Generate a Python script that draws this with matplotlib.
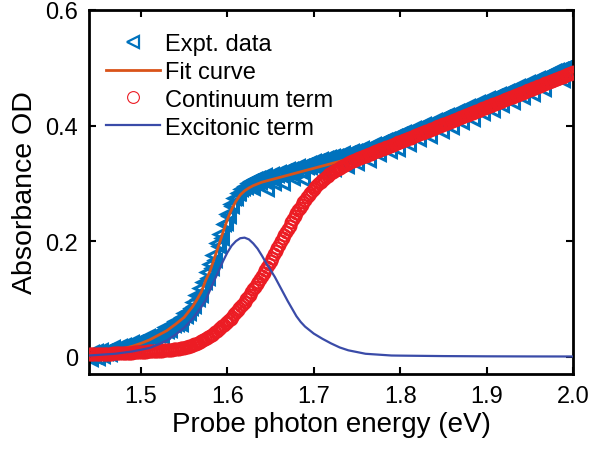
import matplotlib
matplotlib.use("Agg")
import matplotlib.pyplot as plt
from matplotlib.ticker import FixedLocator, FuncFormatter

plt.rcParams['font.family'] = ['Liberation Sans', 'DejaVu Sans']

# ---------------- data ----------------
# Photon energies of the measured spectrum (eV)
energy = [
    1.440, 1.442, 1.444, 1.446, 1.448, 1.450, 1.452, 1.454, 1.456, 1.458,
    1.460, 1.462, 1.464, 1.466, 1.468, 1.470, 1.472, 1.474, 1.476, 1.478,
    1.480, 1.482, 1.484, 1.486, 1.488, 1.490, 1.492, 1.494, 1.496, 1.498,
    1.500, 1.502, 1.504, 1.506, 1.508, 1.510, 1.512, 1.514, 1.516, 1.518,
    1.520, 1.522, 1.524, 1.526, 1.528, 1.530, 1.532, 1.534, 1.536, 1.538,
    1.540, 1.542, 1.544, 1.546, 1.548, 1.550, 1.552, 1.554, 1.556, 1.558,
    1.560, 1.562, 1.564, 1.566, 1.568, 1.570, 1.572, 1.574, 1.576, 1.578,
    1.580, 1.582, 1.584, 1.586, 1.588, 1.590, 1.592, 1.594, 1.596, 1.598,
    1.600, 1.602, 1.604, 1.606, 1.608, 1.610, 1.612, 1.614, 1.616, 1.618,
    1.620, 1.622, 1.624, 1.626, 1.628, 1.630, 1.632, 1.634, 1.636, 1.638,
    1.640, 1.642, 1.644, 1.646, 1.648, 1.650, 1.652, 1.654, 1.656, 1.658,
    1.660, 1.662, 1.664, 1.666, 1.668, 1.670, 1.672, 1.674, 1.676, 1.678,
    1.680, 1.682, 1.684, 1.686, 1.688, 1.690, 1.692, 1.694, 1.696, 1.698,
    1.700, 1.702, 1.704, 1.706, 1.708, 1.710, 1.712, 1.714, 1.716, 1.718,
    1.720, 1.722, 1.724, 1.726, 1.728, 1.730, 1.732, 1.734, 1.736, 1.738,
    1.740, 1.742, 1.744, 1.746, 1.748, 1.750, 1.752, 1.754, 1.756, 1.758,
    1.760, 1.762, 1.764, 1.766, 1.768, 1.770, 1.772, 1.774, 1.776, 1.778,
    1.780, 1.782, 1.784, 1.786, 1.788, 1.790, 1.792, 1.794, 1.796, 1.798,
    1.800, 1.802, 1.804, 1.806, 1.808, 1.810, 1.812, 1.814, 1.816, 1.818,
    1.820, 1.822, 1.824, 1.826, 1.828, 1.830, 1.832, 1.834, 1.836, 1.838,
    1.840, 1.842, 1.844, 1.846, 1.848, 1.850, 1.852, 1.854, 1.856, 1.858,
    1.860, 1.862, 1.864, 1.866, 1.868, 1.870, 1.872, 1.874, 1.876, 1.878,
    1.880, 1.882, 1.884, 1.886, 1.888, 1.890, 1.892, 1.894, 1.896, 1.898,
    1.900, 1.902, 1.904, 1.906, 1.908, 1.910, 1.912, 1.914, 1.916, 1.918,
    1.920, 1.922, 1.924, 1.926, 1.928, 1.930, 1.932, 1.934, 1.936, 1.938,
    1.940, 1.942, 1.944, 1.946, 1.948, 1.950, 1.952, 1.954, 1.956, 1.958,
    1.960, 1.962, 1.964, 1.966, 1.968, 1.970, 1.972, 1.974, 1.976, 1.978,
    1.980, 1.982, 1.984, 1.986, 1.988, 1.990, 1.992, 1.994, 1.996, 1.998,
    2.000]

# Experimental absorbance (blue open left triangles)
expt_od = [
    0.002, -0.004, 0.008, 0.001, 0.010, -0.003, 0.006, 0.011, 0.002, 0.009,
    0.007, 0.012, 0.004, 0.011, 0.017, 0.009, 0.015, 0.010, 0.018, 0.014,
    0.020, 0.014, 0.018, 0.011, 0.021, 0.025, 0.019, 0.025, 0.018, 0.024,
    0.026, 0.022, 0.030, 0.026, 0.035, 0.026, 0.032, 0.037, 0.032, 0.039,
    0.037, 0.043, 0.036, 0.044, 0.051, 0.044, 0.051, 0.047, 0.057, 0.054,
    0.062, 0.057, 0.063, 0.057, 0.069, 0.075, 0.071, 0.079, 0.075, 0.084,
    0.095, 0.088, 0.107, 0.100, 0.119, 0.107, 0.129, 0.130, 0.146, 0.136,
    0.160, 0.154, 0.176, 0.168, 0.197, 0.192, 0.213, 0.206, 0.229, 0.231,
    0.247, 0.244, 0.264, 0.261, 0.274, 0.274, 0.284, 0.284, 0.291, 0.292,
    0.295, 0.293, 0.301, 0.295, 0.304, 0.292, 0.307, 0.304, 0.310, 0.303,
    0.311, 0.304, 0.314, 0.290, 0.313, 0.310, 0.317, 0.301, 0.317, 0.314,
    0.320, 0.315, 0.300, 0.321, 0.319, 0.325, 0.318, 0.325, 0.309, 0.327,
    0.324, 0.330, 0.322, 0.330, 0.307, 0.331, 0.328, 0.336, 0.329, 0.335,
    0.338, 0.332, 0.338, 0.331, 0.342, 0.336, 0.321, 0.343, 0.337, 0.345,
    0.340, 0.347, 0.324, 0.347, 0.343, 0.349, 0.342, 0.352, 0.347, 0.330,
    0.353, 0.347, 0.356, 0.351, 0.356, 0.336, 0.358, 0.353, 0.361, 0.355,
    0.360, 0.355, 0.340, 0.365, 0.361, 0.368, 0.362, 0.368, 0.351, 0.372,
    0.368, 0.375, 0.368, 0.376, 0.356, 0.377, 0.374, 0.382, 0.379, 0.360,
    0.385, 0.380, 0.388, 0.384, 0.389, 0.368, 0.390, 0.386, 0.396, 0.392,
    0.396, 0.377, 0.399, 0.395, 0.403, 0.399, 0.403, 0.382, 0.405, 0.401,
    0.410, 0.405, 0.410, 0.405, 0.390, 0.415, 0.410, 0.418, 0.414, 0.419,
    0.398, 0.420, 0.416, 0.426, 0.421, 0.427, 0.407, 0.428, 0.425, 0.433,
    0.428, 0.434, 0.412, 0.436, 0.432, 0.440, 0.436, 0.440, 0.421, 0.442,
    0.438, 0.447, 0.442, 0.448, 0.427, 0.451, 0.446, 0.454, 0.451, 0.435,
    0.456, 0.452, 0.460, 0.456, 0.462, 0.441, 0.462, 0.458, 0.468, 0.464,
    0.469, 0.450, 0.470, 0.467, 0.475, 0.470, 0.475, 0.454, 0.479, 0.474,
    0.482, 0.478, 0.482, 0.464, 0.486, 0.481, 0.489, 0.484, 0.490, 0.494,
    0.490, 0.496, 0.490, 0.498, 0.479, 0.500, 0.496, 0.503, 0.501, 0.505,
    0.504]

# Continuum term (red open circles), same energies
cont_od = [
    0.004, 0.004, 0.004, 0.0043, 0.0045, 0.0045, 0.0045, 0.0048, 0.005, 0.005,
    0.005, 0.0052, 0.0053, 0.0054, 0.0055, 0.0057, 0.0058, 0.0059, 0.006, 0.0061,
    0.0062, 0.0064, 0.0066, 0.0068, 0.007, 0.0072, 0.0074, 0.0076, 0.0078, 0.0079,
    0.008, 0.0083, 0.0085, 0.0088, 0.009, 0.0092, 0.0093, 0.0095, 0.0097, 0.0099,
    0.010, 0.0103, 0.0106, 0.0109, 0.0112, 0.0115, 0.0118, 0.0121, 0.0124, 0.0127,
    0.013, 0.0134, 0.0138, 0.0142, 0.0146, 0.0152, 0.016, 0.017, 0.018, 0.019,
    0.020, 0.0212, 0.0225, 0.024, 0.0255, 0.0272, 0.029, 0.0305, 0.032, 0.034,
    0.036, 0.038, 0.040, 0.0425, 0.045, 0.0475, 0.050, 0.0525, 0.055, 0.0575,
    0.060, 0.063, 0.066, 0.0695, 0.073, 0.0765, 0.080, 0.084, 0.088, 0.0915,
    0.095, 0.099, 0.103, 0.1075, 0.112, 0.1165, 0.121, 0.1255, 0.130, 0.135,
    0.140, 0.145, 0.150, 0.1555, 0.161, 0.166, 0.171, 0.177, 0.183, 0.1885,
    0.194, 0.1995, 0.205, 0.2105, 0.216, 0.2215, 0.227, 0.2325, 0.238, 0.243,
    0.248, 0.253, 0.258, 0.2625, 0.267, 0.2715, 0.276, 0.280, 0.284, 0.2875,
    0.291, 0.294, 0.297, 0.300, 0.303, 0.3055, 0.308, 0.3105, 0.313, 0.3155,
    0.318, 0.3195, 0.321, 0.323, 0.325, 0.327, 0.329, 0.3305, 0.332, 0.3335,
    0.335, 0.3365, 0.338, 0.3395, 0.341, 0.342, 0.343, 0.3445, 0.346, 0.347,
    0.348, 0.3492, 0.3504, 0.3516, 0.3528, 0.354, 0.3552, 0.3564, 0.3576, 0.3588,
    0.360, 0.3612, 0.3624, 0.3636, 0.3648, 0.366, 0.3672, 0.3684, 0.3696, 0.3708,
    0.372, 0.3732, 0.3744, 0.3756, 0.3768, 0.378, 0.3792, 0.3804, 0.3816, 0.3828,
    0.384, 0.3852, 0.3864, 0.3876, 0.3888, 0.390, 0.3912, 0.3924, 0.3936, 0.3948,
    0.396, 0.3972, 0.3984, 0.3996, 0.4008, 0.402, 0.4032, 0.4044, 0.4056, 0.4068,
    0.408, 0.4092, 0.4104, 0.4116, 0.4128, 0.414, 0.4152, 0.4164, 0.4176, 0.4188,
    0.420, 0.4212, 0.4224, 0.4236, 0.4248, 0.426, 0.4272, 0.4284, 0.4296, 0.4308,
    0.432, 0.4332, 0.4344, 0.4356, 0.4368, 0.438, 0.4392, 0.4404, 0.4416, 0.4428,
    0.444, 0.4452, 0.4464, 0.4476, 0.4488, 0.450, 0.4512, 0.4524, 0.4536, 0.4548,
    0.456, 0.4572, 0.4584, 0.4596, 0.4608, 0.462, 0.4632, 0.4644, 0.4656, 0.4668,
    0.468, 0.4692, 0.4704, 0.4716, 0.4728, 0.474, 0.4752, 0.4764, 0.4776, 0.4788,
    0.480, 0.4812, 0.4824, 0.4836, 0.4848, 0.486, 0.4872, 0.4884, 0.4896, 0.4908,
    0.492]

# Fit curve (orange line)
fit_x = [1.44, 1.45, 1.46, 1.47, 1.48, 1.49, 1.50, 1.51, 1.52, 1.53, 1.54, 1.55,
         1.56, 1.565, 1.57, 1.575, 1.58, 1.585, 1.59, 1.595, 1.60, 1.605, 1.61,
         1.615, 1.62, 1.625, 1.63, 1.635, 1.64, 1.65, 1.66, 1.67, 1.68, 1.69,
         1.70, 1.72, 1.74, 1.76, 1.78, 1.80, 1.85, 1.90, 1.95, 2.00]
fit_y = [0.003, 0.006, 0.007, 0.010, 0.014, 0.018, 0.023, 0.029, 0.037, 0.045,
         0.056, 0.068, 0.087, 0.099, 0.112, 0.132, 0.148, 0.170, 0.192, 0.215,
         0.237, 0.255, 0.269, 0.280, 0.287, 0.292, 0.296, 0.299, 0.302, 0.306,
         0.310, 0.314, 0.318, 0.322, 0.326, 0.334, 0.342, 0.350, 0.362, 0.374,
         0.404, 0.434, 0.464, 0.494]

# Excitonic term (dark blue line)
exc_x = [1.44, 1.45, 1.46, 1.47, 1.48, 1.49, 1.50, 1.51, 1.52, 1.53, 1.54, 1.55,
         1.555, 1.56, 1.565, 1.57, 1.575, 1.58, 1.585, 1.59, 1.595, 1.60, 1.605,
         1.61, 1.615, 1.62, 1.625, 1.63, 1.635, 1.64, 1.645, 1.65, 1.655, 1.66,
         1.665, 1.67, 1.675, 1.68, 1.685, 1.69, 1.70, 1.71, 1.72, 1.73, 1.74,
         1.75, 1.76, 1.77, 1.78, 1.79, 1.80, 1.85, 1.90, 1.95, 2.00]
exc_y = [0.002, 0.003, 0.004, 0.005, 0.007, 0.009, 0.012, 0.015, 0.021, 0.028,
         0.038, 0.050, 0.058, 0.066, 0.076, 0.086, 0.098, 0.115, 0.132, 0.148,
         0.165, 0.180, 0.192, 0.200, 0.205, 0.206, 0.203, 0.196, 0.187, 0.175,
         0.162, 0.150, 0.138, 0.124, 0.110, 0.096, 0.083, 0.070, 0.060, 0.052,
         0.040, 0.031, 0.023, 0.016, 0.011, 0.008, 0.005, 0.004, 0.003, 0.002,
         0.0018, 0.001, 0.0006, 0.0004, 0.0003]

labels = ["Expt. data", "Fit curve", "Continuum term", "Excitonic term"]
x_ticks = [1.5, 1.6, 1.7, 1.8, 1.9, 2.0]
y_ticks = [0, 0.2, 0.4, 0.6]

# ---------------- figure ----------------
fig = plt.figure(figsize=(5.89, 4.56), dpi=100)
ax = fig.add_axes([89 / 589, 1 - 375 / 456, (573 - 89) / 589, (375 - 11) / 456])

ax.plot(energy, expt_od, linestyle='none', marker='<', markersize=8.5,
        markerfacecolor='none', markeredgecolor='#0072BD', markeredgewidth=2.2,
        label=labels[0], zorder=2)
ax.plot(fit_x, fit_y, color='#D95319', linewidth=2.0, label=labels[1], zorder=3)
ax.plot(energy, cont_od, linestyle='none', marker='o', markersize=8.5,
        markerfacecolor='none', markeredgecolor='#EC1C24', markeredgewidth=1.5,
        label=labels[2], zorder=4)
ax.plot(exc_x, exc_y, color='#3A4BA8', linewidth=1.6, label=labels[3], zorder=5)

ax.set_xlim(1.44, 2.0)
ax.set_ylim(-0.03, 0.6)
ax.xaxis.set_major_locator(FixedLocator(x_ticks))
ax.yaxis.set_major_locator(FixedLocator(y_ticks))
ax.xaxis.set_major_formatter(FuncFormatter(lambda v, p: f"{v:.1f}"))
ax.yaxis.set_major_formatter(FuncFormatter(lambda v, p: "0" if abs(v) < 1e-9 else f"{v:.1f}"))

ax.tick_params(direction='in', length=5, width=1.5, labelsize=17, pad=8,
               top=True, right=True, colors='black')
for s in ax.spines.values():
    s.set_linewidth(2.0)
    s.set_color('black')

ax.set_xlabel("Probe photon energy (eV)", fontsize=20, labelpad=3)
ax.set_ylabel("Absorbance OD", fontsize=20.5, labelpad=5)

leg = ax.legend(loc='upper left', bbox_to_anchor=(0.016, 0.963), frameon=False,
                fontsize=17, handlelength=2.3, handletextpad=0.2,
                labelspacing=0.25, borderaxespad=0.0)
edge_w = [1.6, None, 0.8, None]
for h, w in zip(leg.legend_handles, edge_w):
    if w is not None:
        h.set_markeredgewidth(w)

fig.savefig("out.png", dpi=100)
